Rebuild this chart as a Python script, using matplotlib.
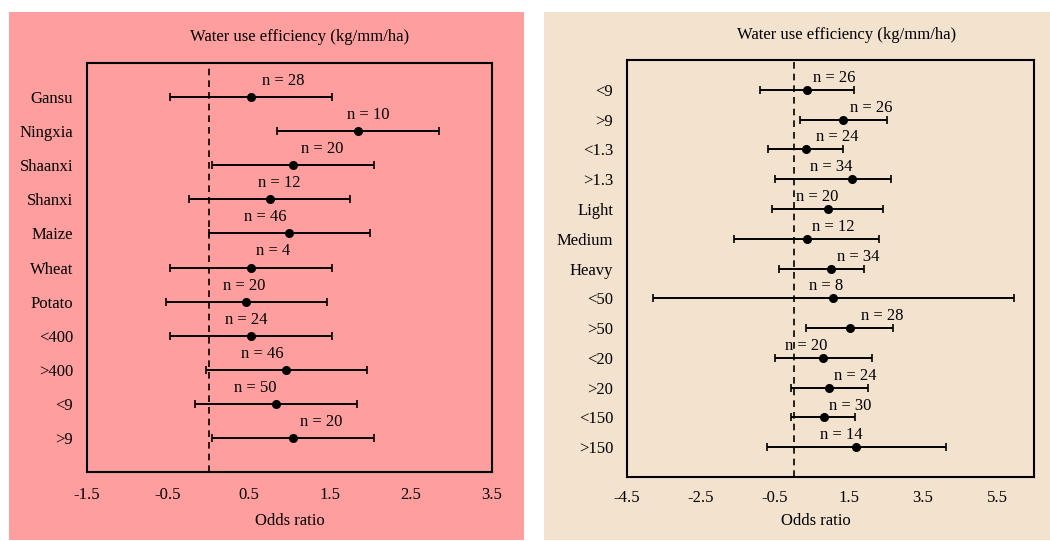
"""
Forest plots of water use efficiency odds ratios, two panels.
"""
import matplotlib
matplotlib.use('Agg')
import matplotlib.pyplot as plt
from matplotlib.patches import Rectangle

plt.rcParams.update({
    'font.family': 'serif',
    'font.serif': ['Liberation Serif', 'DejaVu Serif'],
    'font.size': 12,
})

# left panel: region / crop / rainfall / temperature groups
left_cats = ['Gansu', 'Ningxia', 'Shaanxi', 'Shanxi', 'Maize', 'Wheat', 'Potato',
             '<400', '>400', '<9', '>9']
left_mean = [0.53, 1.84, 1.04, 0.76, 0.99, 0.53, 0.46, 0.53, 0.96, 0.83, 1.04]
left_low = [-0.47, 0.84, 0.04, -0.24, 0.0, -0.48, -0.53, -0.47, -0.03, -0.17, 0.04]
left_high = [1.52, 2.84, 2.04, 1.75, 1.99, 1.53, 1.46, 1.53, 1.96, 1.83, 2.04]
left_n = [28, 10, 20, 12, 46, 4, 20, 24, 46, 50, 20]
left_label_x = [0.92, 1.97, 1.40, 0.87, 0.70, 0.80, 0.44, 0.46, 0.66, 0.58, 1.39]
left_ticks = [-1.5, -0.5, 0.5, 1.5, 2.5, 3.5]

# right panel: soil / texture / SOM / N / P groups
right_cats = ['<9', '>9', '<1.3', '>1.3', 'Light', 'Medium', 'Heavy', '<50', '>50',
              '<20', '>20', '<150', '>150']
right_mean = [0.36, 1.35, 0.33, 1.57, 0.92, 0.36, 1.01, 1.08, 1.52, 0.80, 0.97, 0.82, 1.68]
right_low = [-0.91, 0.18, -0.70, -0.49, -0.58, -1.60, -0.39, -3.79, 0.35, -0.51, -0.07, -0.08, -0.72]
right_high = [1.64, 2.52, 1.35, 2.64, 2.42, 2.31, 1.91, 5.96, 2.70, 2.12, 2.01, 1.67, 4.11]
right_n = [26, 26, 24, 34, 20, 12, 34, 8, 28, 20, 24, 30, 14]
right_label_x = [1.11, 2.11, 1.19, 1.01, 0.63, 1.08, 1.75, 0.88, 2.40, 0.33, 1.68, 1.53, 1.28]
right_ticks = [-4.5, -2.5, -0.5, 1.5, 3.5, 5.5]

W, H = 1050, 541
fig = plt.figure(figsize=(W / 100, H / 100), dpi=100)

# panel backgrounds
fig.add_artist(Rectangle((9 / W, 1 / H), 515 / W, 528 / H, transform=fig.transFigure,
                         facecolor='#ff9e9e', edgecolor='none', zorder=0))
fig.add_artist(Rectangle((544 / W, 1 / H), 506 / W, 528 / H, transform=fig.transFigure,
                         facecolor='#f3e2ce', edgecolor='none', zorder=0))


def forest(ax, cats, mean, low, high, n, label_x, ticks, xlim, dy, xpad):
    y = list(range(len(cats)))
    err = [[m - l for m, l in zip(mean, low)], [h - m for m, h in zip(mean, high)]]
    ax.errorbar(mean, y, xerr=err, fmt='o', color='black', ms=5.5, elinewidth=1.4,
                capsize=3, capthick=1.2)
    ax.axvline(0, color='black', linestyle=(0, (4, 3)), linewidth=1.2)
    for yi, ni, lx in zip(y, n, label_x):
        ax.text(lx, yi - dy, f'n = {ni}', ha='center', va='center', fontsize=12)
    ax.set_xlim(*xlim)
    ax.set_ylim(len(cats), -1)
    ax.set_xticks(ticks)
    ax.set_xticklabels([f'{t:g}' for t in ticks])
    ax.set_yticks(y)
    ax.set_yticklabels(cats)
    ax.tick_params(length=0, labelsize=12)
    ax.tick_params(axis='y', pad=10)
    ax.tick_params(axis='x', pad=xpad)
    ax.set_facecolor('none')
    for s in ax.spines.values():
        s.set_linewidth(1.5)


ax1 = fig.add_axes([87 / W, 1 - 472 / H, 405 / W, 409 / H])
forest(ax1, left_cats, left_mean, left_low, left_high, left_n, left_label_x,
       left_ticks, (-1.5, 3.5), 0.47, 11)
ax2 = fig.add_axes([627 / W, 1 - 477 / H, 407 / W, 417 / H])
forest(ax2, right_cats, right_mean, right_low, right_high, right_n, right_label_x,
       right_ticks, (-4.5, 6.5), 0.4, 9.5)

fig.text(300 / W, 1 - 37 / H, 'Water use efficiency (kg/mm/ha)', ha='center', va='center')
fig.text(847 / W, 1 - 35 / H, 'Water use efficiency (kg/mm/ha)', ha='center', va='center')
fig.text(290 / W, 1 - 521 / H, 'Odds ratio', ha='center', va='center')
fig.text(816 / W, 1 - 521 / H, 'Odds ratio', ha='center', va='center')

fig.savefig('out.png', dpi=100)
